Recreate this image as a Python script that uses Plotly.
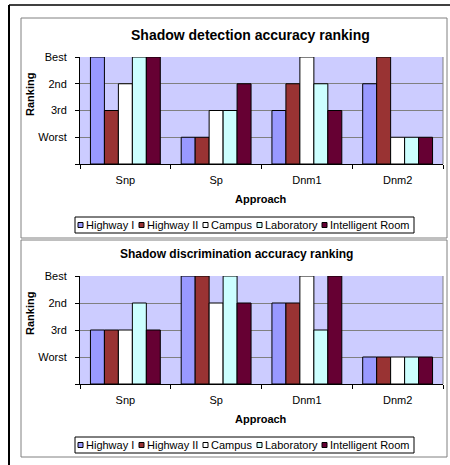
import plotly.graph_objects as go

approaches = ["Snp", "Sp", "Dnm1", "Dnm2"]
series = ["Highway I", "Highway II", "Campus", "Laboratory", "Intelligent Room"]
colors = ["#9999FF", "#993333", "#FFFFFF", "#CCFFFF", "#660033"]
rank_values = [0, 1, 2, 3, 4]
rank_labels = ["", "Worst", "3rd", "2nd", "Best"]

detection_highway1 = [4, 1, 2, 3]
detection_highway2 = [2, 1, 3, 4]
detection_campus = [3, 2, 4, 1]
detection_laboratory = [4, 2, 3, 1]
detection_room = [4, 3, 2, 1]

discrimination_highway1 = [2, 4, 3, 1]
discrimination_highway2 = [2, 4, 3, 1]
discrimination_campus = [2, 3, 4, 1]
discrimination_laboratory = [3, 4, 2, 1]
discrimination_room = [2, 3, 4, 1]

detection = [detection_highway1, detection_highway2, detection_campus,
             detection_laboratory, detection_room]
discrimination = [discrimination_highway1, discrimination_highway2, discrimination_campus,
                  discrimination_laboratory, discrimination_room]

W, H = 450, 465
FONT = "Liberation Sans, Arial, sans-serif"


def px(x):
    return x / W


def py(y):
    return 1 - y / H


fig = go.Figure()
for i, name in enumerate(series):
    fig.add_trace(go.Bar(x=approaches, y=detection[i], name=name,
                         marker=dict(color=colors[i], line=dict(color="#000000", width=1)),
                         xaxis="x", yaxis="y", showlegend=False))
for i, name in enumerate(series):
    fig.add_trace(go.Bar(x=approaches, y=discrimination[i], name=name,
                         marker=dict(color=colors[i], line=dict(color="#000000", width=1)),
                         xaxis="x2", yaxis="y2", showlegend=False))

xcommon = dict(type="category", tickson="boundaries", ticks="outside", ticklen=4,
               tickcolor="#000000", showline=True, linecolor="#000000", linewidth=1,
               showgrid=False, tickfont=dict(family=FONT, size=11, color="#000000"),
               ticklabelstandoff=6, fixedrange=True, automargin=False)
ycommon = dict(range=[0, 4], tickvals=rank_values, ticktext=rank_labels, ticks="outside",
               ticklen=4, tickcolor="#000000", showline=True, linecolor="#000000",
               linewidth=1, showgrid=True, gridcolor="#808080", gridwidth=1,
               zeroline=False, tickfont=dict(family=FONT, size=11, color="#000000"),
               ticklabelstandoff=6, fixedrange=True, automargin=False)

fig.update_layout(
    width=W, height=H, margin=dict(l=0, r=0, t=0, b=0, autoexpand=False),
    paper_bgcolor="#FFFFFF", plot_bgcolor="#CCCCFF",
    barmode="group", bargap=0.23, bargroupgap=0,
    showlegend=False,
    xaxis=dict(domain=[px(80), px(443)], anchor="y", **xcommon),
    yaxis=dict(domain=[py(164), py(57)], anchor="x", **ycommon),
    xaxis2=dict(domain=[px(80), px(443)], anchor="y2", **xcommon),
    yaxis2=dict(domain=[py(384), py(276)], anchor="x2", **ycommon),
)

shapes = []
annotations = []

# outer frame
shapes.append(dict(type="line", xref="paper", yref="paper", x0=px(9), x1=px(9),
                   y0=py(5), y1=py(465), line=dict(color="#000000", width=2)))
shapes.append(dict(type="line", xref="paper", yref="paper", x0=px(9), x1=px(450),
                   y0=py(5), y1=py(5), line=dict(color="#000000", width=1.5)))
# chart boxes
for (t, b) in [(18, 238), (240, 457)]:
    shapes.append(dict(type="rect", xref="paper", yref="paper", x0=px(21), x1=px(447),
                       y0=py(b), y1=py(t), line=dict(color="#808080", width=1)))
# plot area right borders
for xa, ya in [("x", "y"), ("x2", "y2")]:
    shapes.append(dict(type="line", xref=xa + " domain", yref=ya + " domain", x0=1, x1=1,
                       y0=0, y1=1, line=dict(color="#808080", width=1)))


def label(text, x, y, size, angle=0):
    return dict(text=text, x=px(x), y=py(y), xref="paper", yref="paper",
                xanchor="center", yanchor="middle", showarrow=False, textangle=angle,
                font=dict(family=FONT, size=size, color="#000000"))


# titles
annotations.append(label("<b>Shadow detection accuracy ranking</b>", 250, 35, 14))
annotations.append(label("<b>Shadow discrimination accuracy ranking</b>", 236, 254, 12))
# axis titles
for ay, ry in [(199, 95), (419, 314)]:
    annotations.append(label("<b>Approach</b>", 261, ay, 11))
    annotations.append(label("<b>Ranking</b>", 30, ry, 11, -90))

# legends
swatch_x = [78, 139, 203, 257, 322]
for (lt, lb) in [(217, 233), (437, 453)]:
    shapes.append(dict(type="rect", xref="paper", yref="paper", x0=px(75), x1=px(414),
                       y0=py(lb), y1=py(lt), line=dict(color="#000000", width=1),
                       fillcolor="#FFFFFF"))
    mid = (lt + lb) / 2
    for i, name in enumerate(series):
        shapes.append(dict(type="rect", xref="paper", yref="paper",
                           x0=px(swatch_x[i]), x1=px(swatch_x[i] + 5),
                           y0=py(mid + 2.5), y1=py(mid - 2.5),
                           line=dict(color="#000000", width=1), fillcolor=colors[i]))
        annotations.append(dict(text=name, x=px(swatch_x[i] + 6), y=py(mid), xref="paper",
                                yref="paper", xanchor="left", yanchor="middle",
                                showarrow=False,
                                font=dict(family=FONT, size=11, color="#000000")))

fig.update_layout(shapes=shapes, annotations=annotations)
fig.write_html("out.html", config={"displayModeBar": False},
               post_script="document.body.style.margin='0px';"
                           "document.body.style.overflow='hidden';")
